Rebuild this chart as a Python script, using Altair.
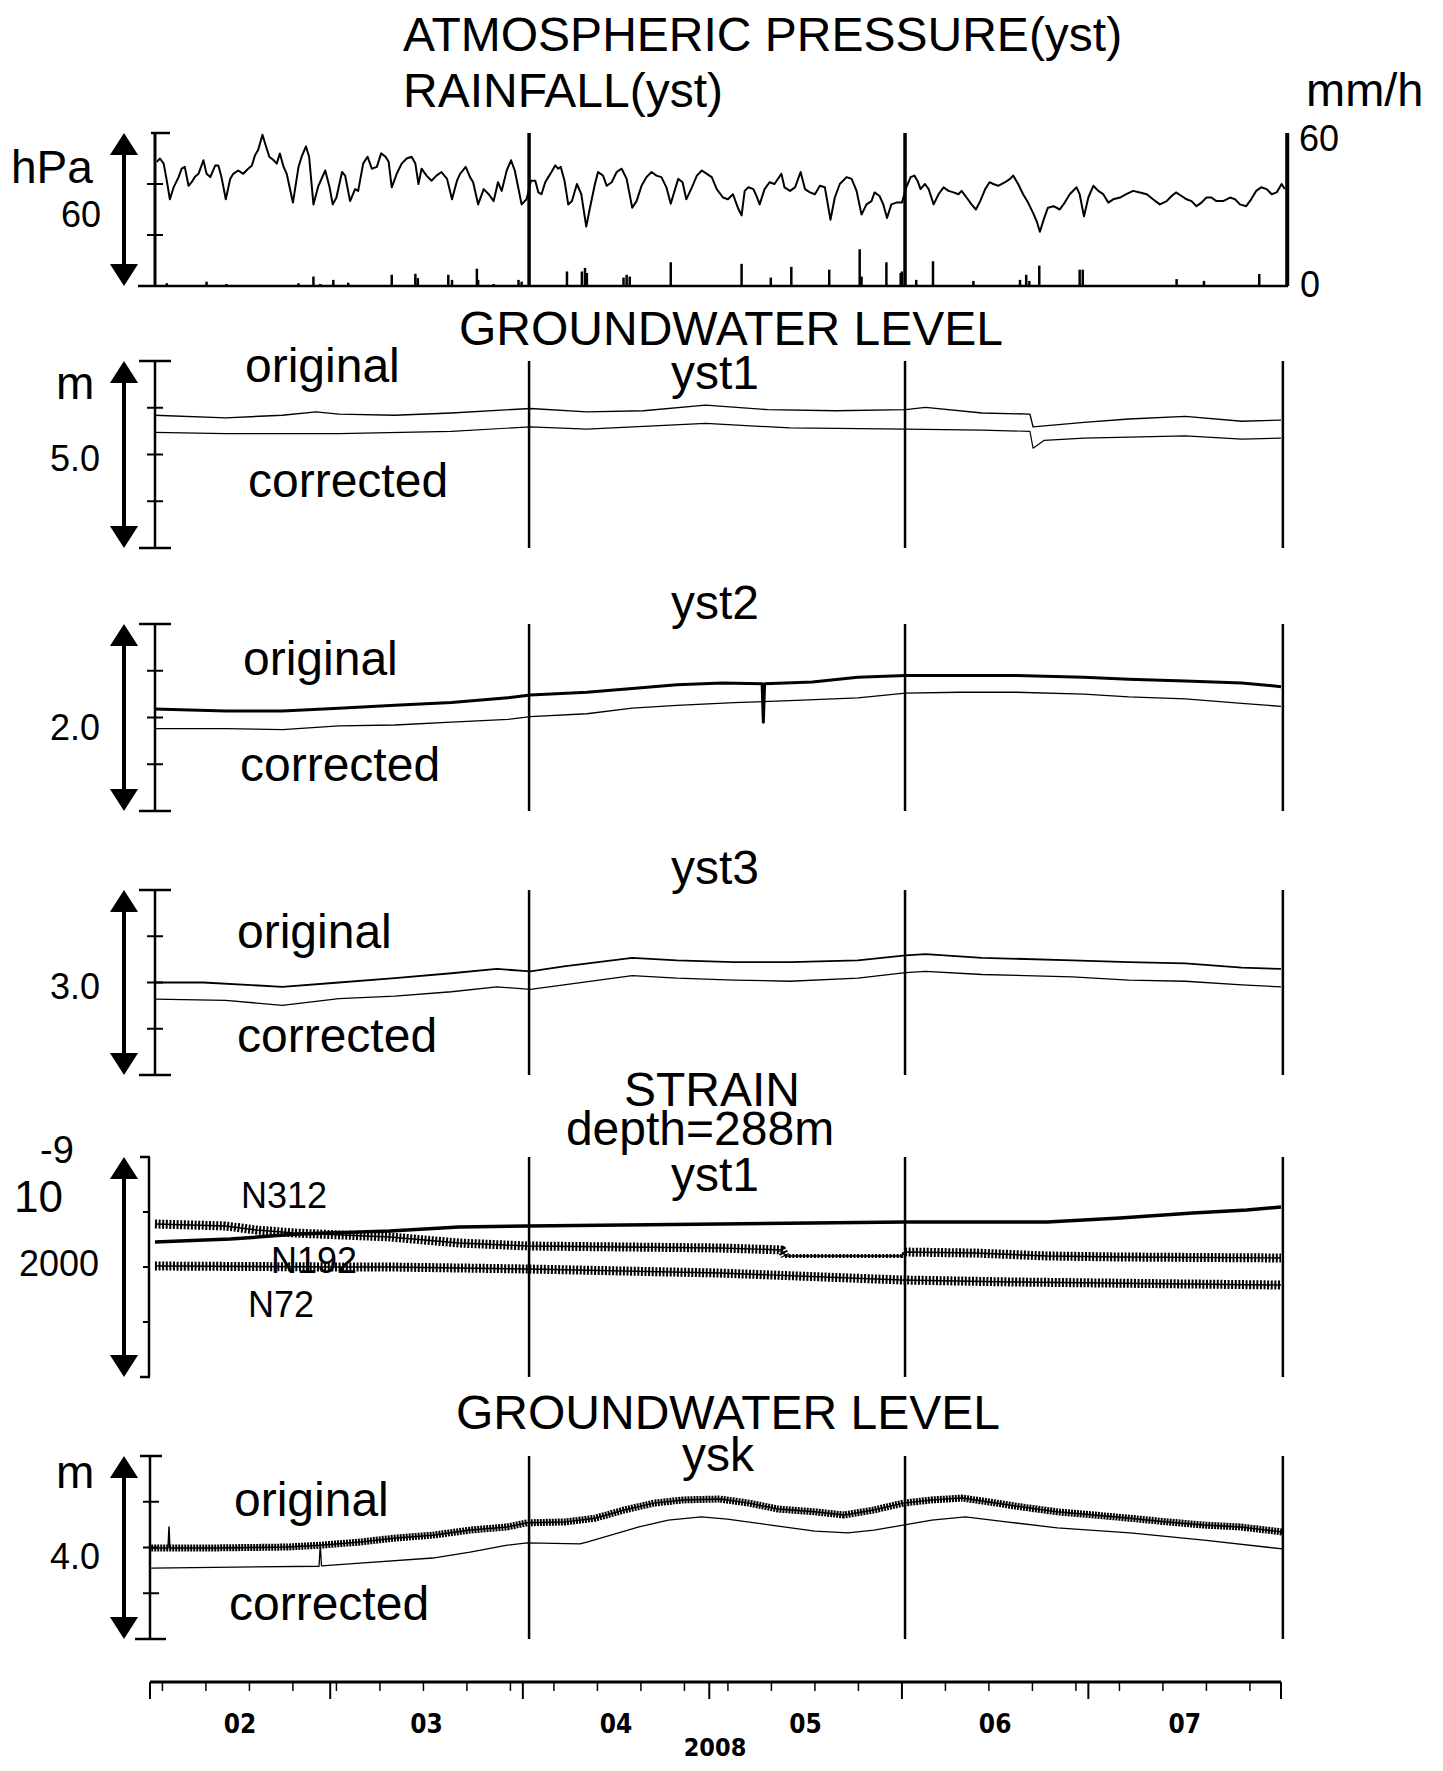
import altair as alt
import pandas as pd

# x values: days since 2008-02-01
PRESSURE = [(1.1,1018.7),(1.6,1020.0),(2.2,1018.0),(2.7,1011.3),(3.2,1004.0),(3.8,1008.7),(4.6,1012.7),(5.1,1016.0),(5.6,1016.7),(6.2,1009.3),(6.7,1010.7),(7.2,1012.7),(7.8,1014.0),(8.6,1019.3),(9.1,1014.0),(9.7,1012.7),(10.5,1017.3),(11.0,1017.3),(11.5,1012.7),(12.2,1004.0),(12.9,1012.0),(13.4,1014.0),(14.2,1015.3),(15.0,1014.0),(15.8,1016.0),(16.4,1017.3),(16.9,1021.3),(17.4,1023.3),(18.1,1029.3),(18.6,1025.3),(19.2,1020.7),(19.9,1019.3),(20.4,1018.0),(20.9,1022.0),(21.5,1016.7),(22.0,1014.0),(23.0,1002.7),(23.9,1016.7),(24.4,1020.7),(25.1,1024.7),(25.6,1020.7),(26.3,1002.0),(27.1,1009.3),(28.2,1015.3),(28.9,1008.7),(29.4,1002.0),(30.0,1004.7),(30.9,1014.7),(31.4,1013.3),(32.2,1003.3),(33.0,1008.0),(33.5,1007.3),(34.3,1018.0),(35.0,1020.7),(35.7,1016.0),(36.5,1016.7),(37.2,1022.0),(37.9,1020.7),(38.4,1018.7),(38.9,1008.7),(39.7,1014.0),(40.5,1018.0),(41.3,1020.0),(42.1,1020.7),(42.7,1018.0),(43.2,1010.0),(43.7,1016.0),(44.5,1013.3),(45.3,1011.3),(46.1,1013.3),(46.9,1014.7),(47.8,1012.0),(48.6,1004.0),(49.4,1011.3),(49.9,1014.0),(50.8,1016.7),(51.5,1012.7),(52.0,1010.7),(52.8,1002.0),(53.7,1008.0),(54.5,1006.0),(55.3,1003.3),(56.0,1010.7),(56.6,1007.3),(57.4,1015.3),(58.1,1019.3),(58.7,1015.3),(59.8,1002.0),(60.6,1004.0),(61.3,1011.3),
            (62.0,1011.3),(62.5,1006.7),(63.0,1006.0),(63.6,1010.7),(64.1,1012.7),(64.6,1014.7),(65.2,1017.3),(65.7,1016.0),(66.1,1016.7),(66.7,1011.3),(67.3,1002.0),(67.9,1003.3),(68.7,1010.0),(69.4,1006.0),(70.2,993.3),(70.8,1000.7),(71.6,1010.0),(72.1,1014.7),(72.9,1013.3),(73.5,1009.3),(74.3,1010.7),(75.1,1014.7),(75.9,1016.0),(76.7,1012.0),(77.6,1000.7),(78.3,1003.3),(79.1,1009.3),(79.9,1012.7),(80.7,1014.7),(81.5,1013.3),(82.3,1012.7),(83.1,1008.7),(83.8,1002.3),(84.5,1008.0),(85.0,1012.0),(85.7,1010.7),(86.3,1004.0),(87.2,1008.7),(88.0,1013.3),(88.8,1015.3),(89.6,1014.0),(90.4,1012.7),(91.2,1008.0),(92.2,1004.7),(93.0,1004.0),(93.8,1006.0),(94.6,1000.7),(95.2,997.7),(95.7,1007.3),(96.3,1008.7),(97.1,1008.0),(97.6,1005.3),(98.1,1002.0),(98.9,1008.0),(99.7,1010.7),(100.5,1010.0),(101.6,1014.0),(102.1,1008.7),(103.0,1007.3),(103.8,1008.7),(104.7,1014.7),(105.4,1008.0),(106.2,1006.7),(107.0,1006.0),(107.8,1009.3),(108.6,1008.7),(109.5,996.0),(110.2,1004.7),(111.0,1010.0),(112.1,1012.7),(112.9,1012.0),(113.7,1007.3),(114.5,998.0),(115.3,1002.0),(116.1,1003.3),(116.6,1006.7),(117.4,1005.3),(118.0,1002.0),(118.6,996.7),(119.3,1002.0),(120.1,1002.7),(121.0,1002.7),(121.7,1008.7),
            (122.4,1012.7),(123.0,1013.3),(123.5,1011.3),(124.0,1008.0),(124.7,1010.0),(125.3,1008.0),(126.1,1002.0),(126.9,1006.0),(127.7,1008.7),(128.5,1007.3),(129.3,1006.7),(130.1,1006.0),(130.6,1007.3),(131.4,1004.7),(132.2,1002.0),(132.9,1000.0),(133.6,1003.3),(134.4,1008.0),(135.1,1010.7),(135.7,1010.0),(136.5,1009.3),(137.6,1010.7),(138.4,1012.0),(138.9,1013.3),(139.7,1010.0),(140.5,1006.0),(141.3,1002.7),(142.1,998.7),(142.7,995.3),(143.2,991.3),(143.9,996.7),(144.5,1000.7),(145.4,1001.3),(146.4,1000.0),(147.2,1002.7),(148.0,1006.0),(149.1,1008.7),(149.6,1006.0),(150.3,997.3),(151.0,1004.7),(151.8,1009.3),(152.6,1007.3),(153.4,1006.0),(154.2,1002.7),(155.0,1004.0),(156.1,1004.7),(157.1,1006.0),(158.2,1007.3),(159.3,1006.7),(160.4,1006.0),(161.4,1004.0),(162.5,1002.0),(163.6,1003.3),(164.4,1005.3),(165.1,1006.7),(166.0,1005.3),(166.8,1004.0),(167.6,1003.3),(168.4,1001.3),(169.2,1002.7),(170.0,1004.7),(170.8,1004.7),(171.6,1003.3),(172.7,1003.3),(173.8,1004.7),(174.6,1004.0),(175.4,1002.0),(176.4,1001.3),(177.2,1004.0),(178.0,1007.3),(178.8,1008.7),(179.7,1008.0),(180.5,1006.0),(181.3,1006.7),(182.1,1010.0),(182.6,1008.0)]

RAIN = [(2.7,1.1),(9.1,1.7),(12.3,0.8),(23.9,1.1),(26.3,3.7),(27.4,0.8),(29.5,2.4),(31.9,1.3),(38.9,4.4),(42.7,4.8),(43.1,3.1),(48.0,4.4),(48.6,2.4),(52.6,6.8),(52.8,2.4),(55.3,0.8),(59.3,2.4),(59.8,1.7),
        (67.1,5.7),(69.5,5.7),(70.0,7.1),(70.3,5.1),(76.2,3.3),(76.7,4.4),(77.2,3.7),(83.8,9.3),(95.2,8.7),(99.9,3.3),(103.2,7.5),(109.3,6.4),(114.2,14.4),(114.5,3.7),(118.5,9.3),(120.8,5.1),
        (121.0,5.7),(123.3,2.4),(126.0,9.7),(132.5,2.0),(140.0,2.4),(141.0,4.4),(141.5,2.0),(143.1,8.0),(149.6,6.4),(150.1,6.4),(165.2,2.7),(169.6,2.0),(178.5,4.7)]

YST1_ORIGINAL = [(0.7,3.55),(12.2,3.48),(21.3,3.55),(26.7,3.64),(30.4,3.58),(39.4,3.55),(48.5,3.61),(61.2,3.73),(70.3,3.64),(79.4,3.67),(89.4,3.82),(99.4,3.70),(110.3,3.67),(121.6,3.70),(124.8,3.76),(133.9,3.61),(141.6,3.58),(142.1,3.24),(150.3,3.36),(157.5,3.45),(166.6,3.52),(175.7,3.39),(182.0,3.42)]
YST1_CORRECTED = [(0.7,3.09),(12.2,3.06),(30.4,3.06),(48.5,3.12),(61.2,3.24),(70.3,3.18),(89.4,3.33),(103.0,3.21),(121.6,3.18),(133.9,3.15),(141.6,3.12),(142.1,2.67),(143.9,2.88),(150.3,2.94),(166.6,3.00),(175.7,2.91),(182.0,2.94)]

YST2_ORIGINAL = [(0.7,1.09),(12.2,1.07),(21.3,1.07),(30.4,1.10),(39.4,1.13),(48.5,1.16),(57.6,1.21),(61.2,1.24),(70.3,1.27),(77.6,1.31),(84.8,1.35),(92.1,1.37),(98.5,1.36),(98.7,0.95),(98.9,1.36),(106.6,1.38),(113.9,1.43),(121.6,1.45),(130.3,1.45),(139.4,1.45),(150.3,1.43),(157.5,1.41),(166.6,1.39),(175.7,1.37),(182.0,1.33)]
YST2_CORRECTED = [(0.7,0.88),(12.2,0.88),(21.3,0.87),(30.4,0.91),(39.4,0.92),(48.5,0.95),(57.6,0.98),(61.2,1.01),(70.3,1.04),(77.6,1.10),(84.8,1.13),(94.0,1.16),(103.0,1.18),(113.9,1.21),(121.6,1.26),(130.3,1.27),(139.4,1.27),(150.3,1.25),(157.5,1.22),(166.6,1.20),(175.7,1.15),(182.0,1.12)]

YST3_ORIGINAL = [(0.7,1.50),(8.6,1.50),(21.3,1.43),(30.4,1.50),(39.4,1.57),(48.5,1.65),(55.8,1.72),(61.2,1.68),(66.6,1.76),(77.6,1.90),(84.8,1.86),(94.0,1.83),(103.0,1.83),(113.9,1.86),(121.6,1.94),(124.8,1.96),(133.9,1.90),(148.4,1.86),(157.5,1.83),(166.6,1.81),(175.7,1.74),(182.0,1.72)]
YST3_CORRECTED = [(0.7,1.23),(12.2,1.21),(21.3,1.13),(30.4,1.24),(39.4,1.28),(48.5,1.35),(55.8,1.43),(61.2,1.39),(66.6,1.46),(77.6,1.61),(84.8,1.57),(94.0,1.54),(103.0,1.52),(113.9,1.57),(121.6,1.66),(124.8,1.68),(133.9,1.63),(148.4,1.59),(157.5,1.54),(166.6,1.52),(175.7,1.46),(182.0,1.43)]

STRAIN_N312 = [(0.8,1227),(12.9,1254),(23.8,1300),(38.6,1327),(49.7,1364),(60.8,1373),(91.7,1391),(106.4,1400),(121.5,1409),(144.4,1409),(156.1,1445),(167.8,1491),(176.5,1518),(182.0,1545)]
STRAIN_N192 = [(0.8,1391),(12.1,1373),(17.2,1336),(23.2,1309),(38.6,1273),(49.7,1218),(60.8,1191),(91.7,1173),(101.7,1155),(102.2,1100),(121.0,1100),(121.5,1136),(132.8,1127),(144.4,1100),(156.1,1091),(182.0,1082)]
STRAIN_N72 = [(0.8,1009),(30.6,1000),(38.6,1000),(60.8,982),(91.7,945),(121.0,882),(138.6,864),(182.0,836)]

YSK_ORIGINAL = [(0.2,1.99),(2.9,1.99),(3.06,2.45),(3.2,1.99),(10.1,1.99),(22.0,2.01),(27.4,2.05),(33.8,2.12),(39.7,2.21),(45.5,2.27),(51.5,2.38),(57.5,2.45),(60.7,2.54),(66.9,2.56),(71.6,2.64),(76.3,2.82),(81.1,2.97),(85.8,3.04),(91.7,3.06),(96.4,2.97),(101.1,2.84),(107.0,2.78),(111.7,2.71),(116.5,2.82),(121.2,2.97),(125.8,3.04),(130.7,3.08),(135.3,2.99),(140.0,2.89),(146.0,2.78),(151.9,2.71),(157.7,2.64),(163.7,2.56),(169.6,2.49),(175.4,2.45),(182.2,2.34)]
YSK_CORRECTED = [(0.2,1.55),(27.2,1.59),(27.4,2.05),(27.6,1.60),(33.8,1.66),(45.5,1.77),(51.5,1.90),(57.5,2.05),(60.7,2.10),(69.2,2.08),(70.3,2.12),(78.7,2.45),(83.4,2.60),(88.7,2.67),(92.9,2.62),(99.9,2.49),(107.0,2.36),(112.3,2.32),(116.5,2.38),(121.2,2.49),(125.8,2.60),(131.2,2.67),(137.8,2.56),(146.0,2.43),(157.7,2.32),(169.6,2.16),(182.2,1.97)]

MONTH_START_DAYS = [0, 29, 60, 90, 121, 151, 182]
WEEK_TICK_DAYS = [2, 9, 16, 23, 30, 37, 44, 51, 58, 65, 72, 79, 86, 93, 100, 107, 114, 128, 135, 142, 149, 156, 163, 170, 177]
MONTH_LABELS = ["02", "03", "04", "05", "06", "07"]
MONTH_MID_DAYS = [14.5, 44.5, 75.0, 105.5, 136.0, 166.5]
YEAR_LABEL = "2008"
SEP_DAYS = [61.0, 121.5, 182.3]
PRES_TICKS = [990, 1010]

# ---------------- layout (page pixel positions) ----------------
OX, OY = 150, 8
W, H = 1131, 1755
FONT = "Liberation Sans, Arial, Helvetica, sans-serif"
FONT_NARROW = "Liberation Sans Narrow, Arial Narrow, DejaVu Sans Condensed, sans-serif"
BIG = 48

PANEL = {
    "pres": ([970, 1030], 133, 286),
    "rain": ([0, 60], 133, 286),
    "yst1": ([0, 5.0], 361, 548),
    "yst2": ([0, 2.0], 624, 811),
    "yst3": ([0, 3.0], 890, 1075),
    "strain": ([0, 2000], 1157, 1377),
    "ysk": ([0, 4.0], 1456, 1639),
}

XS = alt.Scale(domain=[0, 182], nice=False, zero=False)
layers = []


def ysc(k):
    dom, top, bot = PANEL[k]
    return alt.Scale(domain=dom, range=[bot - OY, top - OY], nice=False, zero=False)


def X():
    return alt.X("d:Q", scale=XS, axis=None)


def Y(k, f="v"):
    return alt.Y(f + ":Q", scale=ysc(k), axis=None)


def add_line(points, k, width, dash=None):
    df = pd.DataFrame(points, columns=["d", "v"])
    kw = dict(color="black", strokeWidth=width, strokeJoin="round")
    if dash:
        kw["strokeDash"] = dash
        kw["strokeCap"] = "butt"
    layers.append(alt.Chart(df).mark_line(**kw).encode(x=X(), y=Y(k)))


def add_vlines(k, days, width):
    dom = PANEL[k][0]
    df = pd.DataFrame({"d": days, "lo": [dom[0]] * len(days), "hi": [dom[1]] * len(days)})
    layers.append(alt.Chart(df).mark_rule(color="black", strokeWidth=width).encode(
        x=X(), y=Y(k, "lo"), y2="hi:Q"))


def add_axis(k, xf, width):
    dom = PANEL[k][0]
    df = pd.DataFrame({"lo": [dom[0]], "hi": [dom[1]]})
    layers.append(alt.Chart(df).mark_rule(color="black", strokeWidth=width).encode(
        x=alt.value(xf - OX), y=Y(k, "lo"), y2="hi:Q"))


def add_hticks(k, vals, x0, x1, width):
    df = pd.DataFrame({"v": vals})
    layers.append(alt.Chart(df).mark_rule(color="black", strokeWidth=width).encode(
        y=Y(k), x=alt.value(x0 - OX), x2=alt.value(x1 - OX)))


UP = "M0,0L0.64,1L-0.64,1Z"
DOWN = "M0,0L0.64,-1L-0.64,-1Z"


def add_arrow(k, xf=124):
    dom = PANEL[k][0]
    span = dom[1] - dom[0]
    df = pd.DataFrame({"lo": [dom[0] + 0.06 * span], "hi": [dom[1] - 0.06 * span]})
    layers.append(alt.Chart(df).mark_rule(color="black", strokeWidth=4).encode(
        x=alt.value(xf - OX), y=Y(k, "lo"), y2="hi:Q"))
    for v, shp in ((dom[1], UP), (dom[0], DOWN)):
        layers.append(alt.Chart(pd.DataFrame({"v": [v]})).mark_point(
            shape=shp, filled=True, size=1936, color="black", opacity=1, strokeWidth=0).encode(
            x=alt.value(xf - OX), y=Y(k)))


def add_text(txt, xf, yf, size, align="left", font=FONT, weight="normal"):
    layers.append(alt.Chart(pd.DataFrame({"t": [txt]})).mark_text(
        align=align, baseline="alphabetic", fontSize=size, font=font, fontWeight=weight,
        color="black").encode(x=alt.value(xf - OX), y=alt.value(yf - OY), text="t:N"))


# ---------------- panel 1 : pressure + rain ----------------
add_axis("pres", 155, 3)
add_hticks("pres", [1030], 151, 170, 2.5)
add_hticks("pres", PRES_TICKS, 147, 163, 2)
add_hticks("rain", [0], 138, 1288, 2.5)
add_vlines("rain", SEP_DAYS[:2], 3.5)
add_vlines("rain", [183.0], 4)
add_arrow("pres")
rdf = pd.DataFrame(RAIN, columns=["d", "v"])
rdf["z"] = 0
layers.append(alt.Chart(rdf).mark_rule(color="black", strokeWidth=2.5).encode(
    x=X(), y=Y("rain"), y2="z:Q"))
add_line(PRESSURE, "pres", 2)

# ---------------- panels 2-4 : groundwater yst ----------------
for k in ("yst1", "yst2", "yst3"):
    dom = PANEL[k][0]
    add_axis(k, 155, 2.5)
    add_hticks(k, [dom[0], dom[1]], 139, 171, 2.5)
    q = (dom[1] - dom[0]) / 4
    add_hticks(k, [dom[0] + q, dom[0] + 2 * q, dom[0] + 3 * q], 147, 163, 2)
    add_vlines(k, SEP_DAYS, 2.5)
    add_arrow(k)

add_line(YST1_ORIGINAL, "yst1", 1.4)
add_line(YST1_CORRECTED, "yst1", 1.2)
add_line(YST2_ORIGINAL, "yst2", 3)
add_line(YST2_CORRECTED, "yst2", 1.3)
add_line(YST3_ORIGINAL, "yst3", 1.8)
add_line(YST3_CORRECTED, "yst3", 1.3)

# ---------------- panel 5 : strain ----------------
add_axis("strain", 149, 2.5)
add_hticks("strain", [0, 2000], 140, 150, 2.5)
add_hticks("strain", [500, 1000, 1500], 143, 150, 2)
add_vlines("strain", SEP_DAYS, 2.5)
add_arrow("strain")
add_line(STRAIN_N312, "strain", 3.5)
n192_a = [p for p in STRAIN_N192 if p[0] <= 102.2]
n192_b = [p for p in STRAIN_N192 if 102.2 <= p[0] <= 121.5]
n192_c = [p for p in STRAIN_N192 if p[0] >= 121.5]
add_line(n192_a, "strain", 9, [2, 1.6])
add_line(n192_b, "strain", 4, [2, 1.6])
add_line(n192_c, "strain", 9, [2, 1.6])
add_line(STRAIN_N192, "strain", 1.4)
add_line(STRAIN_N72, "strain", 9, [2, 1.6])
add_line(STRAIN_N72, "strain", 1.4)

# ---------------- panel 6 : ysk ----------------
add_axis("ysk", 150, 2.5)
add_hticks("ysk", [4.0], 140, 162, 2.5)
add_hticks("ysk", [0], 135, 166, 2.5)
add_hticks("ysk", [1.0, 2.0, 3.0], 143, 159, 2)
add_vlines("ysk", SEP_DAYS, 2.5)
add_arrow("ysk")
ysk_band = [p for p in YSK_ORIGINAL if not (2.95 < p[0] < 3.15)]
add_line(ysk_band, "ysk", 7, [2, 1])
add_line(YSK_ORIGINAL, "ysk", 1.5)
add_line(YSK_CORRECTED, "ysk", 1.3)

# ---------------- time axis ----------------
AXIS_Y = 1682
layers.append(alt.Chart(pd.DataFrame({"d": [0], "d2": [182]})).mark_rule(
    color="black", strokeWidth=3).encode(x=X(), x2="d2:Q", y=alt.value(AXIS_Y - OY)))
layers.append(alt.Chart(pd.DataFrame({"d": MONTH_START_DAYS})).mark_rule(
    color="black", strokeWidth=2).encode(x=X(), y=alt.value(AXIS_Y - OY), y2=alt.value(AXIS_Y + 17 - OY)))
layers.append(alt.Chart(pd.DataFrame({"d": WEEK_TICK_DAYS})).mark_rule(
    color="black", strokeWidth=1.5).encode(x=X(), y=alt.value(AXIS_Y - OY), y2=alt.value(AXIS_Y + 9 - OY)))
layers.append(alt.Chart(pd.DataFrame({"d": MONTH_MID_DAYS, "t": MONTH_LABELS})).mark_text(
    align="center", baseline="alphabetic", fontSize=26, font=FONT_NARROW, fontWeight="bold",
    color="black").encode(x=X(), y=alt.value(1733 - OY), text="t:N"))
add_text(YEAR_LABEL, 715, 1756, 25, "center", FONT_NARROW, "bold")

# ---------------- texts ----------------
add_text("ATMOSPHERIC PRESSURE(yst)", 403, 51, BIG)
add_text("RAINFALL(yst)", 403, 107, BIG)
add_text("mm/h", 1306, 106, 47)
add_text("60", 1299, 151, 36)
add_text("0", 1300, 297, 36)
add_text("hPa", 11, 183, 46)
add_text("60", 101, 227, 36, "right")

add_text("GROUNDWATER LEVEL", 731, 345, BIG, "center")
add_text("yst1", 715, 389, BIG, "center")
add_text("original", 245, 382, BIG)
add_text("corrected", 248, 497, BIG)
add_text("m", 56, 399, 46)
add_text("5.0", 100, 471, 36, "right")

add_text("yst2", 715, 619, BIG, "center")
add_text("original", 243, 675, BIG)
add_text("corrected", 240, 781, BIG)
add_text("2.0", 100, 740, 36, "right")

add_text("yst3", 715, 884, BIG, "center")
add_text("original", 237, 948, BIG)
add_text("corrected", 237, 1052, BIG)
add_text("3.0", 100, 999, 36, "right")

add_text("STRAIN", 712, 1106, BIG, "center")
add_text("depth=288m", 700, 1145, BIG, "center")
add_text("yst1", 715, 1191, BIG, "center")
add_text("-9", 40, 1163, 38)
add_text("10", 14, 1212, 44)
add_text("2000", 99, 1276, 36, "right")
add_text("N312", 241, 1208, 36)
add_text("N192", 271, 1273, 36)
add_text("N72", 248, 1317, 36)

add_text("GROUNDWATER LEVEL", 728, 1429, BIG, "center")
add_text("ysk", 718, 1471, BIG, "center")
add_text("original", 234, 1516, BIG)
add_text("corrected", 229, 1620, BIG)
add_text("m", 56, 1488, 46)
add_text("4.0", 100, 1569, 36, "right")

chart = alt.layer(*layers).properties(
    width=W, height=H,
    background="white",
    autosize=alt.AutoSizeParams(type="none"),
    padding={"left": 142, "top": 0, "right": 150, "bottom": 0},
).resolve_scale(y="independent").configure_view(stroke=None)

chart.save("out.html", embed_options={"renderer": "svg", "actions": False})
